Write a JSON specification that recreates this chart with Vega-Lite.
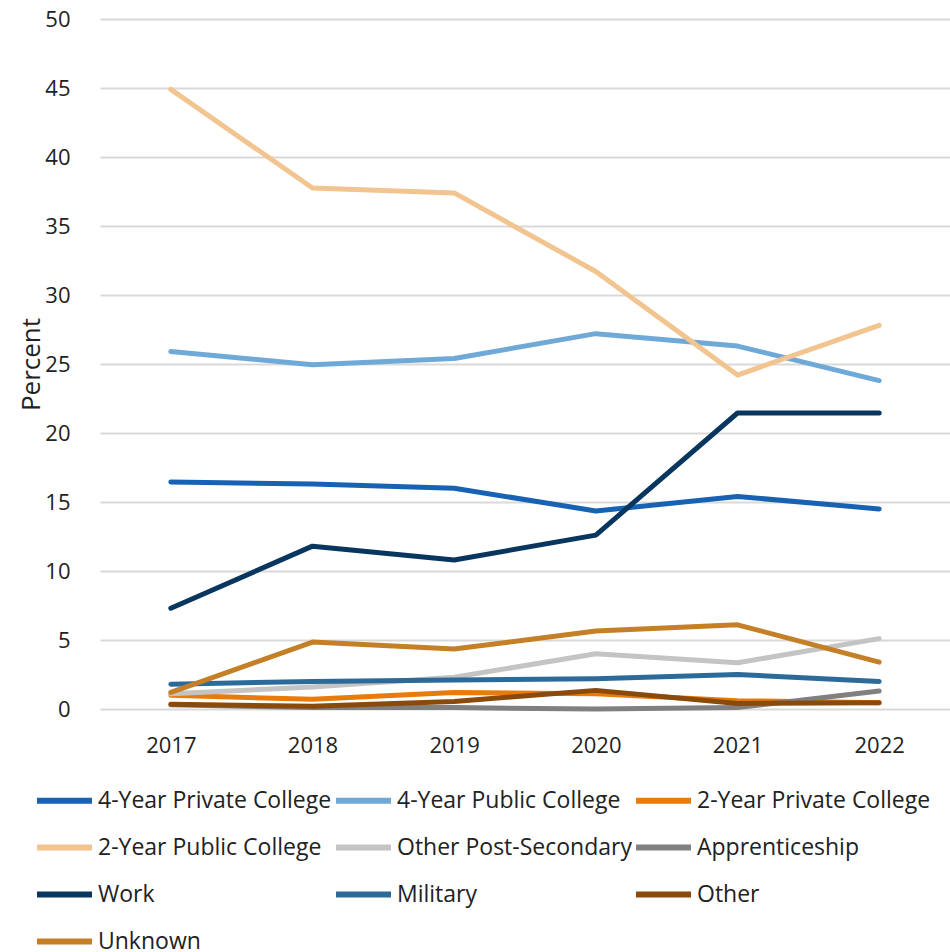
{
  "$schema": "https://vega.github.io/schema/vega-lite/v6.json",
  "autosize": {"type": "none"},
  "width": 850,
  "height": 690,
  "padding": {"left": 100, "top": 19, "right": 0, "bottom": 243},
  "background": "white",
  "config": {
    "font": "Open Sans",
    "view": {"stroke": null},
    "axis": {"labelFont": "Open Sans", "titleFont": "Open Sans", "labelColor": "#222", "titleColor": "#222"}
  },
  "data": {
    "values": [
      {"year": "2017", "cat": "4-Year Private College", "v": 16.45},
      {"year": "2018", "cat": "4-Year Private College", "v": 16.3},
      {"year": "2019", "cat": "4-Year Private College", "v": 16.0},
      {"year": "2020", "cat": "4-Year Private College", "v": 14.35},
      {"year": "2021", "cat": "4-Year Private College", "v": 15.4},
      {"year": "2022", "cat": "4-Year Private College", "v": 14.5},
      {"year": "2017", "cat": "4-Year Public College", "v": 25.9},
      {"year": "2018", "cat": "4-Year Public College", "v": 24.95},
      {"year": "2019", "cat": "4-Year Public College", "v": 25.4},
      {"year": "2020", "cat": "4-Year Public College", "v": 27.2},
      {"year": "2021", "cat": "4-Year Public College", "v": 26.3},
      {"year": "2022", "cat": "4-Year Public College", "v": 23.8},
      {"year": "2017", "cat": "2-Year Private College", "v": 1.0},
      {"year": "2018", "cat": "2-Year Private College", "v": 0.7},
      {"year": "2019", "cat": "2-Year Private College", "v": 1.2},
      {"year": "2020", "cat": "2-Year Private College", "v": 1.1},
      {"year": "2021", "cat": "2-Year Private College", "v": 0.6},
      {"year": "2022", "cat": "2-Year Private College", "v": 0.45},
      {"year": "2017", "cat": "2-Year Public College", "v": 44.9},
      {"year": "2018", "cat": "2-Year Public College", "v": 37.75},
      {"year": "2019", "cat": "2-Year Public College", "v": 37.4},
      {"year": "2020", "cat": "2-Year Public College", "v": 31.7},
      {"year": "2021", "cat": "2-Year Public College", "v": 24.2},
      {"year": "2022", "cat": "2-Year Public College", "v": 27.8},
      {"year": "2017", "cat": "Other Post-Secondary", "v": 1.1},
      {"year": "2018", "cat": "Other Post-Secondary", "v": 1.6},
      {"year": "2019", "cat": "Other Post-Secondary", "v": 2.3},
      {"year": "2020", "cat": "Other Post-Secondary", "v": 4.0},
      {"year": "2021", "cat": "Other Post-Secondary", "v": 3.35},
      {"year": "2022", "cat": "Other Post-Secondary", "v": 5.1},
      {"year": "2017", "cat": "Apprenticeship", "v": 0.3},
      {"year": "2018", "cat": "Apprenticeship", "v": 0.1},
      {"year": "2019", "cat": "Apprenticeship", "v": 0.1},
      {"year": "2020", "cat": "Apprenticeship", "v": 0.0},
      {"year": "2021", "cat": "Apprenticeship", "v": 0.1},
      {"year": "2022", "cat": "Apprenticeship", "v": 1.3},
      {"year": "2017", "cat": "Work", "v": 7.3},
      {"year": "2018", "cat": "Work", "v": 11.8},
      {"year": "2019", "cat": "Work", "v": 10.8},
      {"year": "2020", "cat": "Work", "v": 12.6},
      {"year": "2021", "cat": "Work", "v": 21.45},
      {"year": "2022", "cat": "Work", "v": 21.45},
      {"year": "2017", "cat": "Military", "v": 1.8},
      {"year": "2018", "cat": "Military", "v": 2.0},
      {"year": "2019", "cat": "Military", "v": 2.1},
      {"year": "2020", "cat": "Military", "v": 2.2},
      {"year": "2021", "cat": "Military", "v": 2.5},
      {"year": "2022", "cat": "Military", "v": 2.0},
      {"year": "2017", "cat": "Other", "v": 0.35},
      {"year": "2018", "cat": "Other", "v": 0.2},
      {"year": "2019", "cat": "Other", "v": 0.55},
      {"year": "2020", "cat": "Other", "v": 1.35},
      {"year": "2021", "cat": "Other", "v": 0.4},
      {"year": "2022", "cat": "Other", "v": 0.45},
      {"year": "2017", "cat": "Unknown", "v": 1.2},
      {"year": "2018", "cat": "Unknown", "v": 4.85},
      {"year": "2019", "cat": "Unknown", "v": 4.35},
      {"year": "2020", "cat": "Unknown", "v": 5.65},
      {"year": "2021", "cat": "Unknown", "v": 6.1},
      {"year": "2022", "cat": "Unknown", "v": 3.4}
    ]
  },
  "mark": {"type": "line", "strokeWidth": 5, "strokeCap": "round", "strokeJoin": "round"},
  "encoding": {
    "x": {
      "field": "year", "type": "ordinal",
      "scale": {"type": "point", "padding": 0.5},
      "axis": {"title": null, "labelAngle": 0, "labelFontSize": 22, "labelPadding": 26, "ticks": false, "domain": false, "grid": false}
    },
    "y": {
      "field": "v", "type": "quantitative",
      "scale": {"domain": [0, 50], "nice": false},
      "axis": {"title": "Percent", "titleFontSize": 26, "titleFontWeight": "normal", "titlePadding": 0,
               "values": [0, 5, 10, 15, 20, 25, 30, 35, 40, 45, 50], "labelFontSize": 22, "labelPadding": 30,
               "ticks": false, "domain": false, "gridColor": "#d9d9d9", "gridWidth": 2}
    },
    "color": {
      "field": "cat", "type": "nominal",
      "scale": {
        "domain": ["4-Year Private College", "4-Year Public College", "2-Year Private College", "2-Year Public College", "Other Post-Secondary", "Apprenticeship", "Work", "Military", "Other", "Unknown"],
        "range": ["#1762b3", "#6fa9d8", "#e97a0c", "#f2c490", "#c4c4c4", "#808080", "#08365e", "#2c6a9a", "#8a4a0b", "#c57f27"]
      },
      "legend": {
        "title": null, "orient": "none", "legendX": -66, "legendY": 751, "columns": 3, "direction": "horizontal",
        "symbolType": "stroke", "symbolSize": 3025, "symbolStrokeWidth": 6,
        "labelFontSize": 23, "labelColor": "#222", "labelOffset": 3,
        "columnPadding": -8, "rowPadding": 4, "labelLimit": 400
      }
    }
  }
}
